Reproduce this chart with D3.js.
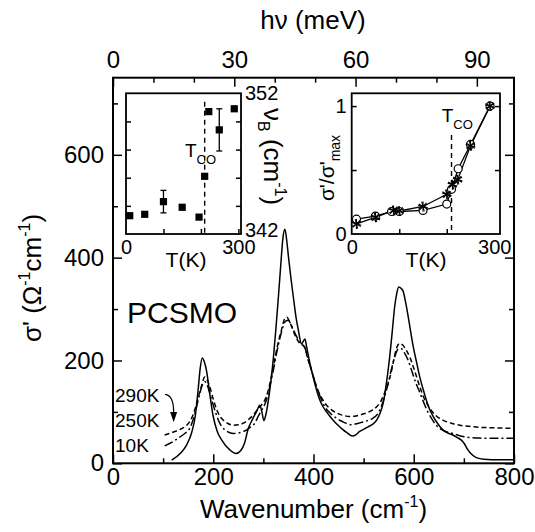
<!DOCTYPE html>
<html>
<head>
<meta charset="utf-8">
<script src="https://cdn.jsdelivr.net/npm/d3@7"></script>
<style>
  body { margin: 0; background: #fff; }
  svg text { font-family: "Liberation Sans", Arial, Helvetica, sans-serif; fill: #000; }
</style>
</head>
<body>
<svg id="chart" width="535" height="532"></svg>
<script>
// optical conductivity spectra, [wavenumber (cm-1), sigma' (ohm-1 cm-1)]
const sigma10K = [
  [117, 6], [135, 20], [147, 36], [157, 60], [164, 91], [170, 145], [174, 185], [178, 205],
  [182, 198], [187, 178], [193, 135], [200, 91], [208, 62], [217, 45], [233, 26], [245, 19],
  [255, 25], [262, 38], [270, 68], [278, 85], [286, 100], [293, 113], [297, 100], [301, 83],
  [305, 95], [310, 123], [315, 160], [320, 205], [325, 262], [330, 324], [335, 390], [339, 438],
  [343, 455], [347, 430], [350, 402], [355, 360], [360, 322], [365, 285], [370, 258], [376, 232],
  [380, 238], [383, 242], [386, 228], [393, 194], [400, 165], [406, 143], [413, 122], [419, 110],
  [426, 100], [433, 91], [441, 82], [449, 74], [458, 66], [466, 60], [478, 53], [485, 56],
  [492, 62], [500, 66], [509, 71], [518, 76], [526, 84], [533, 98], [539, 117], [546, 160],
  [552, 207], [557, 255], [562, 305], [566, 330], [570, 343], [575, 340], [579, 334], [584, 312],
  [589, 285], [594, 255], [599, 227], [606, 195], [612, 168], [619, 143], [625, 123], [632, 104],
  [639, 91], [648, 77], [658, 65], [668, 59], [678, 55], [687, 50], [695, 45], [701, 38],
  [708, 26], [716, 17], [725, 11], [740, 8], [770, 7], [800, 7]
];
const sigma250K = [
  [103, 34], [118, 41], [130, 49], [142, 57], [153, 68], [160, 85], [167, 111], [173, 135],
  [178, 152], [183, 159], [188, 152], [193, 137], [197, 123], [205, 98], [213, 78], [222, 66],
  [232, 60], [240, 58], [250, 59], [260, 62], [267, 65], [275, 71], [283, 78], [290, 92],
  [296, 102], [306, 123], [313, 150], [320, 182], [328, 222], [336, 255], [344, 276], [350, 278],
  [355, 270], [362, 255], [370, 240], [377, 232], [383, 224], [390, 200], [397, 178], [405, 152],
  [414, 128], [424, 108], [435, 96], [447, 87], [460, 80], [476, 75], [490, 78], [505, 82],
  [519, 88], [528, 96], [535, 110], [542, 130], [549, 156], [556, 185], [563, 210], [569, 222],
  [575, 223], [582, 214], [589, 200], [596, 180], [604, 157], [612, 138], [620, 118], [628, 100],
  [637, 85], [645, 74], [655, 66], [667, 61], [678, 58], [690, 54], [705, 51], [730, 49],
  [760, 48.5], [800, 48.5]
];
const sigma290K = [
  [103, 55], [118, 60], [134, 66], [145, 72], [153, 81], [160, 95], [167, 117], [172, 135],
  [177, 152], [183, 168], [188, 162], [193, 149], [200, 125], [207, 104], [213, 92], [220, 84],
  [230, 77], [240, 74], [250, 75], [260, 78], [270, 85], [280, 94], [287, 103], [293, 110],
  [300, 118], [306, 130], [313, 155], [320, 188], [328, 228], [336, 259], [343, 282], [347, 284],
  [352, 276], [358, 262], [365, 245], [373, 233], [378, 230], [383, 225], [388, 205], [393, 190],
  [400, 168], [406, 149], [416, 128], [426, 113], [436, 104], [446, 98], [460, 93], [472, 91],
  [485, 92], [496, 95], [506, 98], [518, 104], [527, 111], [534, 120], [541, 135], [548, 152],
  [555, 177], [561, 205], [566, 225], [572, 233], [578, 230], [585, 220], [592, 207], [600, 185],
  [606, 167], [612, 149], [620, 128], [627, 115], [635, 103], [645, 92], [658, 84], [675, 78],
  [692, 74], [710, 72], [732, 70], [760, 69], [800, 68]
];
const tempLabels = ['290K', '250K', '10K'];

// left inset: phonon frequency nu_B vs T
const insetT = [10, 50, 100, 150, 195, 210, 221, 249, 289];
const insetNu = [343.3, 343.4, 344.3, 343.9, 343.2, 346.1, 350.7, 349.4, 350.9];
const insetErr = [0, 0, 0.8, 0, 0, 0, 0, 1.5, 0];

// right inset: normalised sigma' vs T
const circleT = [10, 50, 84, 100, 150, 200, 210, 224, 250, 291];
const circleVals = [0.116, 0.14, 0.176, 0.176, 0.184, 0.234, 0.35, 0.51, 0.70, 1.0];
const starT = [10, 50, 88, 100, 150, 200, 212, 223, 250, 291];
const starVals = [0.079, 0.13, 0.184, 0.18, 0.215, 0.31, 0.386, 0.425, 0.69, 1.0];
const tCO = 210;

const FONT = '"Liberation Sans", Arial, Helvetica, sans-serif';
const svg = d3.select('#chart');

const x = d3.scaleLinear().domain([0, 800]).range([113, 514]);
const y = d3.scaleLinear().domain([0, 750]).range([463.3, 77.7]);
const xMeV = d3.scaleLinear().domain([0, 800 / 8.0655]).range([113, 514]);

function ticks(gen, scale, vals, size, tr, fs, pad, fmt) {
  const a = gen(scale).tickValues(vals).tickSizeInner(-size).tickSizeOuter(0)
    .tickPadding(pad || 0).tickFormat(fmt || (() => ''));
  const g = svg.append('g').attr('transform', tr).call(a);
  g.select('.domain').remove();
  g.attr('font-family', FONT).attr('font-size', fs || 10);
  g.selectAll('line').attr('stroke', '#000').attr('stroke-width', 1.5);
  return g;
}

// main axes
ticks(d3.axisBottom, x, [100, 300, 500, 700], 5, 'translate(0,463.3)');
ticks(d3.axisBottom, x, [0, 200, 400, 600, 800], 9, 'translate(0,463.3)', 24, 5, d3.format('d'));
ticks(d3.axisLeft, y, [100, 300, 500, 700], 5, 'translate(113,0)');
ticks(d3.axisLeft, y, [0, 200, 400, 600], 9, 'translate(113,0)', 24, 9, d3.format('d'));
ticks(d3.axisRight, y, [100, 300, 500, 700], 5, 'translate(514,0)');
ticks(d3.axisRight, y, [0, 200, 400, 600], 9, 'translate(514,0)');
ticks(d3.axisTop, xMeV, [10, 20, 40, 50, 70, 80], 5, 'translate(0,77.7)');
ticks(d3.axisTop, xMeV, [0, 30, 60, 90], 9, 'translate(0,77.7)', 24, 10, d3.format('d'));

svg.append('rect').attr('x', 113).attr('y', 77.7).attr('width', 401).attr('height', 385.6)
  .attr('fill', 'none').attr('stroke', '#000').attr('stroke-width', 2);

// spectra
const line = d3.line().x(d => x(d[0])).y(d => y(d[1])).curve(d3.curveMonotoneX);
[[sigma290K, '5,3'], [sigma250K, '9,3,2,3'], [sigma10K, null]].forEach(([data, dash]) => {
  svg.append('path').datum(data).attr('d', line).attr('fill', 'none')
    .attr('stroke', '#000').attr('stroke-width', 1.5)
    .attr('stroke-dasharray', dash);
});

// annotations
svg.append('text').attr('x', x(28)).attr('y', y(273)).attr('font-size', 30).text('PCSMO');
svg.selectAll('.tlab').data(tempLabels).enter().append('text')
  .attr('x', x(4)).attr('y', (d, i) => y(119 - i * 48.5))
  .attr('font-size', 19).text(d => d);
svg.append('path')
  .attr('d', `M${x(104)},${y(134)} Q${x(121)},${y(132)} ${x(121)},${y(100)}`)
  .attr('fill', 'none').attr('stroke', '#000').attr('stroke-width', 1.2);
svg.append('path')
  .attr('d', `M${x(121) - 3.5},${y(100)} L${x(121) + 3.5},${y(100)} L${x(121)},${y(80)} Z`)
  .attr('fill', '#000');

// axis titles
const xt = svg.append('text').attr('x', 313.5).attr('y', 518).attr('text-anchor', 'middle').attr('font-size', 26);
xt.append('tspan').text('Wavenumber (cm');
xt.append('tspan').attr('font-size', 16).attr('dy', -11).text('-1');
xt.append('tspan').attr('dy', 11).text(')');

svg.append('text').attr('x', 313).attr('y', 29).attr('text-anchor', 'middle').attr('font-size', 26)
  .text('h\u03bd (meV)');

const yt = svg.append('text').attr('transform', 'translate(41,278) rotate(-90)')
  .attr('text-anchor', 'middle').attr('font-size', 26);
yt.append('tspan').text('\u03c3\' (\u03a9');
yt.append('tspan').attr('font-size', 16).attr('dy', -11).text('-1');
yt.append('tspan').attr('dy', 11).text('cm');
yt.append('tspan').attr('font-size', 16).attr('dy', -11).text('-1');
yt.append('tspan').attr('dy', 11).text(')');

// ---- left inset ----
const xI1 = d3.scaleLinear().domain([0, 307]).range([126, 241]);
const yI1 = d3.scaleLinear().domain([342, 352]).range([234, 93.3]);
svg.append('rect').attr('x', 126).attr('y', 93.3).attr('width', 115).attr('height', 140.7)
  .attr('fill', '#fff').attr('stroke', '#000').attr('stroke-width', 1.8);
ticks(d3.axisBottom, xI1, [100, 200, 300], 5, 'translate(0,234)');
ticks(d3.axisBottom, xI1, [0, 300], 0, 'translate(0,234)', 20, 6, d3.format('d'));
ticks(d3.axisRight, yI1, [344, 346, 348, 350], 5, 'translate(241,0)');
const nuAx = ticks(d3.axisRight, yI1, [342, 352], 0, 'translate(241,0)', 20, 4, d3.format('d'));
nuAx.selectAll('text').filter(d => d === 342).attr('dy', '0.1em');
ticks(d3.axisLeft, yI1, [344, 346, 348, 350], 5, 'translate(126,0)');
svg.append('text').attr('x', 186).attr('y', 266.5).attr('text-anchor', 'middle')
  .attr('font-size', 21).text('T(K)');

svg.append('line').attr('x1', xI1(tCO)).attr('x2', xI1(tCO)).attr('y1', 101.7).attr('y2', 234)
  .attr('stroke', '#000').attr('stroke-width', 1.4).attr('stroke-dasharray', '5,4');
const tc1 = svg.append('text').attr('x', 185).attr('y', 156.7).attr('font-size', 19);
tc1.append('tspan').text('T');
tc1.append('tspan').attr('font-size', 13).attr('dy', 7).text('CO');

const errs = insetT.map((t, i) => ({ t, v: insetNu[i], e: insetErr[i] })).filter(d => d.e > 0);
errs.forEach(d => {
  const g = svg.append('g').attr('stroke', '#000').attr('stroke-width', 1.3);
  g.append('line').attr('x1', xI1(d.t)).attr('x2', xI1(d.t)).attr('y1', yI1(d.v - d.e)).attr('y2', yI1(d.v + d.e));
  [d.v - d.e, d.v + d.e].forEach(v => g.append('line').attr('x1', xI1(d.t) - 3).attr('x2', xI1(d.t) + 3)
    .attr('y1', yI1(v)).attr('y2', yI1(v)));
});
svg.selectAll('.sq').data(insetT).enter().append('rect')
  .attr('x', (d, i) => xI1(d) - 3.6).attr('y', (d, i) => yI1(insetNu[i]) - 3.6)
  .attr('width', 7.2).attr('height', 7.2).attr('fill', '#000');

const nuLab = svg.append('text').attr('transform', 'translate(264,108) rotate(90)').attr('font-size', 26);
nuLab.append('tspan').text('\u03bd');
nuLab.append('tspan').attr('font-size', 16).attr('dy', 6).text('B');
nuLab.append('tspan').attr('dy', -6).text(' (cm');
nuLab.append('tspan').attr('font-size', 16).attr('dy', -11).text('-1');
nuLab.append('tspan').attr('dy', 11).text(')');

// ---- right inset ----
const xI2 = d3.scaleLinear().domain([0, 312]).range([351.7, 500]);
const yI2 = d3.scaleLinear().domain([0, 1.1]).range([234, 93.3]);
svg.append('rect').attr('x', 351.7).attr('y', 93.3).attr('width', 148.3).attr('height', 140.7)
  .attr('fill', '#fff').attr('stroke', '#000').attr('stroke-width', 1.8);
ticks(d3.axisBottom, xI2, [100, 200], 5, 'translate(0,234)');
ticks(d3.axisBottom, xI2, [0, 300], 0, 'translate(0,234)', 20, 6, d3.format('d'));
ticks(d3.axisLeft, yI2, [0.5, 1], 5, 'translate(351.7,0)');
ticks(d3.axisLeft, yI2, [0, 1], 0, 'translate(351.7,0)', 20, 5, d3.format('d'));
ticks(d3.axisRight, yI2, [0.5, 1], 5, 'translate(500,0)');
svg.append('text').attr('x', 426).attr('y', 266.5).attr('text-anchor', 'middle')
  .attr('font-size', 21).text('T(K)');

svg.append('line').attr('x1', xI2(tCO)).attr('x2', xI2(tCO)).attr('y1', 135).attr('y2', 234)
  .attr('stroke', '#000').attr('stroke-width', 1.4).attr('stroke-dasharray', '5,4');
const tc2 = svg.append('text').attr('x', 441.7).attr('y', 121.7).attr('font-size', 19);
tc2.append('tspan').text('T');
tc2.append('tspan').attr('font-size', 13).attr('dy', 7).text('CO');

const l2 = d3.line().x(d => xI2(d[0])).y(d => yI2(d[1]));
const circPts = circleT.map((t, i) => [t, circleVals[i]]);
const starPts = starT.map((t, i) => [t, starVals[i]]);
[circPts, starPts].forEach(pts => svg.append('path').datum(pts).attr('d', l2)
  .attr('fill', 'none').attr('stroke', '#000').attr('stroke-width', 1.3));
svg.selectAll('.circ').data(circPts).enter().append('circle')
  .attr('cx', d => xI2(d[0])).attr('cy', d => yI2(d[1])).attr('r', 4)
  .attr('fill', '#fff').attr('stroke', '#000').attr('stroke-width', 1.2);
const star = d3.symbol().type(d3.symbolAsterisk).size(70);
svg.selectAll('.star').data(starPts).enter().append('g')
  .attr('transform', d => `translate(${xI2(d[0])},${yI2(d[1])})`)
  .each(function () {
    const g = d3.select(this);
    g.append('path').attr('d', star()).attr('fill', 'none').attr('stroke', '#000').attr('stroke-width', 1.2);
    g.append('path').attr('d', star()).attr('transform', 'rotate(45)').attr('fill', 'none')
      .attr('stroke', '#000').attr('stroke-width', 1);
  });

const sLab = svg.append('text').attr('transform', 'translate(334,168) rotate(-90)')
  .attr('text-anchor', 'middle').attr('font-size', 21);
sLab.append('tspan').text('\u03c3\'/\u03c3\'');
sLab.append('tspan').attr('font-size', 14).attr('dy', 6).text('max');
</script>
</body>
</html>
